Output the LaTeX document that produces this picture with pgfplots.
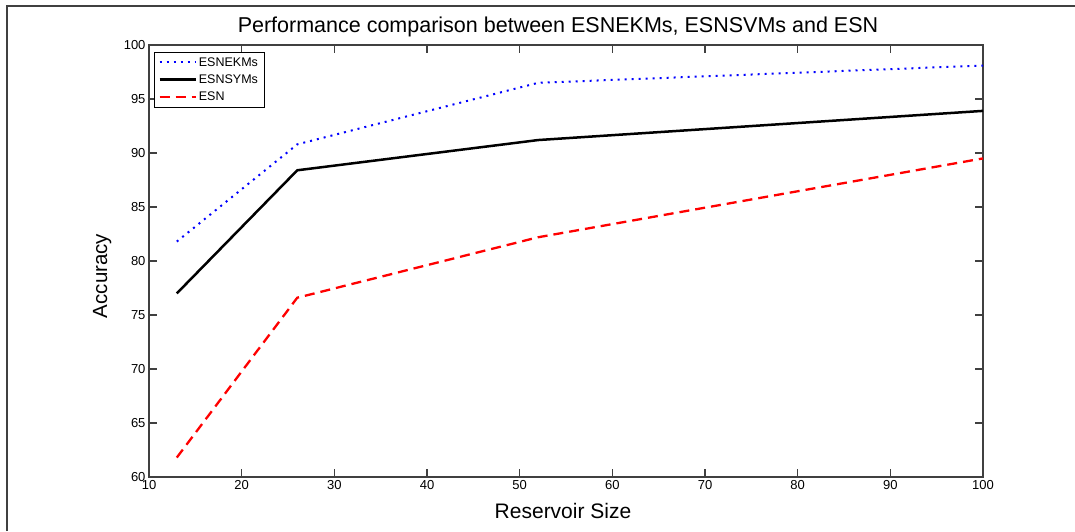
\documentclass[border=0pt]{standalone}
\usepackage{fontspec}
\setmainfont{Liberation Sans}
\usepackage{pgfplots}
\pgfplotsset{compat=1.18}

\definecolor{axgray}{RGB}{64,64,64}

\begin{document}
\begin{tikzpicture}[x=1pt,y=1pt]
\useasboundingbox (0,0) rectangle (1075,531);
% frame of the figure window (only top and left edges show)
\draw[axgray, line width=1.5pt] (7,0) -- (7,525) -- (1075,525);
\begin{axis}[
  at={(149pt,54pt)}, anchor=south west,
  width=834pt, height=432pt, scale only axis,
  xmin=10, xmax=100, ymin=60, ymax=100,
  xtick={10,20,...,100}, ytick={60,65,...,100},
  tick align=inside, xtick pos=both, ytick pos=both,
  major tick length=8pt,
  axis line style={axgray, line width=1.2pt},
  every tick/.style={axgray, line width=1.2pt},
  tick label style={font=\fontsize{13}{13}\selectfont, black},
  /pgf/number format/assume math mode=true,
  legend style={at={(axis description cs:0.006,0.984)}, anchor=north west,
    draw=black, line width=0.8pt, font=\fontsize{12.5}{12.5}\selectfont,
    row sep=3pt, inner xsep=4pt, inner ysep=3pt},
  legend cell align=left,
  legend image code/.code={\draw[#1] plot coordinates {(0pt,0pt) (36pt,0pt)};},
]
\addplot[blue, line width=2pt, dash pattern=on 2pt off 5pt] coordinates {
  (13,81.8) (26,90.8) (52,96.5) (100,98.1)};
\addplot[black, line width=2.5pt] coordinates {
  (13,77.0) (26,88.4) (52,91.2) (100,93.9)};
\addplot[red, line width=2.3pt, dash pattern=on 10pt off 6pt] coordinates {
  (13,61.8) (26,76.6) (52,82.2) (100,89.5)};
\legend{ESNEKMs, ESNSYMs, ESN}
\end{axis}
\node[anchor=base, font=\fontsize{21.5}{21.5}\selectfont] at (558,498)
  {Performance comparison between ESNEKMs, ESNSVMs and ESN};
\node[anchor=base, font=\fontsize{21}{21}\selectfont] at (563,13) {Reservoir Size};
\node[anchor=base, rotate=90, font=\fontsize{20.5}{20.5}\selectfont] at (107,255) {Accuracy};
\end{tikzpicture}
\end{document}
